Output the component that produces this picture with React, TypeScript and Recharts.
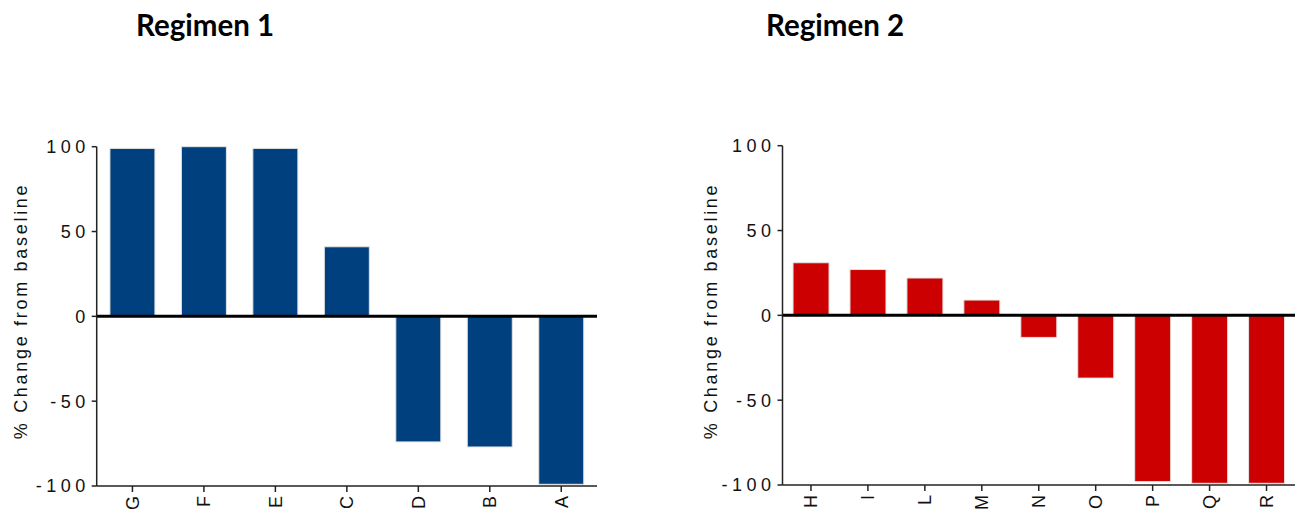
import React from 'react';
import { BarChart, Bar, XAxis, YAxis, ReferenceLine } from 'recharts';

const categories1 = ['G', 'F', 'E', 'C', 'D', 'B', 'A'];
const values1 = [99, 100, 99, 41, -74, -77, -99];
const categories2 = ['H', 'I', 'L', 'M', 'N', 'O', 'P', 'Q', 'R'];
const values2 = [31, 27, 22, 9, -13, -37, -98, -99, -99];
const yTicks = [-100, -50, 0, 50, 100];
const titles = ['Regimen 1', 'Regimen 2'];
const yLabel = '% Change from baseline';

const data1 = categories1.map((name, i) => ({ name, value: values1[i] }));
const data2 = categories2.map((name, i) => ({ name, value: values2[i] }));

const FONT = '"Liberation Sans", Arial, sans-serif';
const TXT = '#111';
const AX = '#222';

const XTick = (props: any) => {
  const { x, y, payload } = props;
  return (
    <g transform={`translate(${x},${y})`}>
      <text x={0} y={0} dy="0.35em" transform="rotate(-90)" textAnchor="end" fontFamily={FONT} fontSize={18} fill={TXT}>
        {payload.value}
      </text>
    </g>
  );
};

const YTick = (props: any) => {
  const { x, y, payload } = props;
  return (
    <text x={x} y={y} dy="0.36em" textAnchor="end" fontFamily={FONT} fontSize={18} fill={TXT} style={{ letterSpacing: '4.5px' }}>
      {payload.value}
    </text>
  );
};

const makeYLabel = (cxLocal: number) => (props: any) => {
  const vb = props.viewBox || {};
  const cx = (vb.x || 0) + cxLocal;
  const cy = 311;
  return (
    <text x={cx} y={cy} transform={`rotate(-90 ${cx} ${cy})`} textAnchor="middle" dominantBaseline="central" fontFamily={FONT} fontSize={18} fill={TXT} style={{ letterSpacing: '2.7px' }}>
      {yLabel}
    </text>
  );
};

interface PanelProps {
  data: { name: string; value: number }[];
  width: number;
  yAxisWidth: number;
  top: number;
  right: number;
  xAxisHeight: number;
  color: string;
  labelX: number;
}

const Panel = ({ data, width, yAxisWidth, top, right, xAxisHeight, color, labelX }: PanelProps) => (
  <BarChart width={width} height={511} data={data} margin={{ top, right, bottom: 0, left: 0 }} barCategoryGap="18.5%">
    <XAxis
      dataKey="name"
      interval={0}
      height={xAxisHeight}
      tick={<XTick />}
      tickSize={6}
      tickMargin={4}
      axisLine={{ stroke: AX, strokeWidth: 1.5 }}
      tickLine={{ stroke: AX, strokeWidth: 1.5 }}
    />
    <YAxis
      type="number"
      domain={[-100, 100]}
      ticks={yTicks}
      width={yAxisWidth}
      tick={<YTick />}
      tickSize={5}
      tickMargin={2}
      axisLine={{ stroke: AX, strokeWidth: 1.5 }}
      tickLine={{ stroke: AX, strokeWidth: 1.5 }}
      label={{ content: makeYLabel(labelX) } as any}
    />
    <Bar dataKey="value" fill={color} stroke="#e3e3e3" strokeWidth={1} isAnimationActive={false} />
    <ReferenceLine y={0} stroke="#000" strokeWidth={3} />
  </BarChart>
);

export default function App() {
  return (
    <div style={{ position: 'absolute', left: 0, top: 0, width: 1296, height: 511, background: '#fff' }}>
      <div style={{ position: 'absolute', left: 0, top: 0 }}>
        <Panel data={data1} width={640} yAxisWidth={96.7} top={146.7} right={43} xAxisHeight={25} color="#00407F" labelX={21} />
      </div>
      <div style={{ position: 'absolute', left: 640, top: 0 }}>
        <Panel data={data2} width={656} yAxisWidth={142.5} top={145.7} right={1} xAxisHeight={26} color="#CC0000" labelX={71} />
      </div>
      <svg width={1296} height={60} style={{ position: 'absolute', left: 0, top: 0, pointerEvents: 'none' }}>
        <text x={205} y={36} textAnchor="middle" fontFamily="Lato, 'Open Sans', sans-serif" fontWeight="bold" fontSize={29.5} fill="#000">
          {titles[0]}
        </text>
        <text x={835} y={36} textAnchor="middle" fontFamily="Lato, 'Open Sans', sans-serif" fontWeight="bold" fontSize={29.5} fill="#000">
          {titles[1]}
        </text>
      </svg>
    </div>
  );
}
